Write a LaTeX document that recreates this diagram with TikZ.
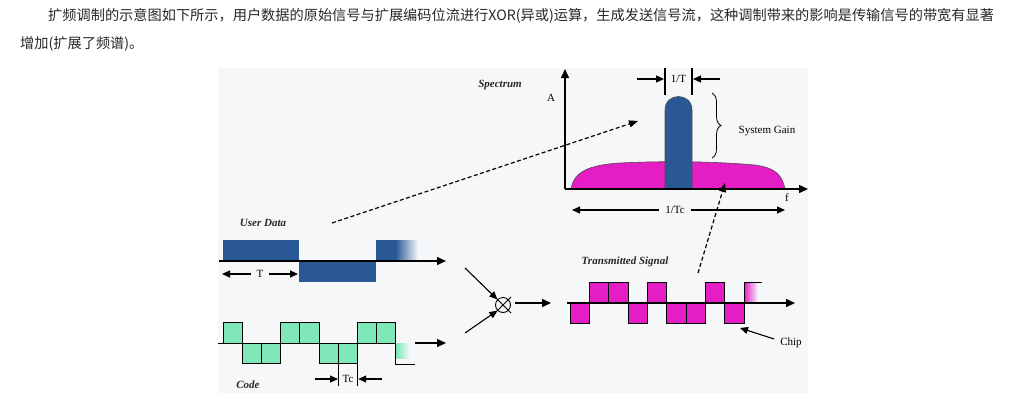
\documentclass[tikz,border=0pt]{standalone}
\usepackage{fontspec}
\setmainfont{Liberation Serif}
\newfontfamily\cjk{Noto Sans CJK SC}
\usetikzlibrary{arrows.meta,decorations.pathreplacing,shadings}
\definecolor{panel}{RGB}{246,247,249}
\definecolor{dblue}{RGB}{42,88,148}
\definecolor{mint}{RGB}{128,232,184}
\definecolor{pinkm}{RGB}{228,30,196}
\definecolor{txt}{RGB}{40,40,40}
\tikzset{
  tipa/.style={-{Triangle[length=9pt,width=8pt]}},
  axisline/.style={line width=1.4pt,tipa},
  thinarrow/.style={line width=1.1pt,-{Triangle[length=8pt,width=7pt]}},
  dasharrow/.style={line width=1.2pt,dash pattern=on 4pt off 2.5pt,-{Triangle[length=9pt,width=7pt]}},
  wave/.style={line width=0.9pt,draw=black},
  lab/.style={font=\fontsize{11}{13}\selectfont\itshape\bfseries,text=txt,inner sep=0pt},
  txtlab/.style={font=\fontsize{11}{13}\selectfont,text=black,inner sep=0pt},
  marker/.style={line width=1.1pt}
}
\begin{document}
\begin{tikzpicture}[x=1pt,y=-1pt]
\useasboundingbox (0,0) rectangle (1019,405);
\fill[white] (0,0) rectangle (1019,405);
% caption text
\node[anchor=west,inner sep=0pt,text=txt,font=\cjk\fontsize{14.2}{16}\selectfont] (cap1) at (48,16)
  {扩频调制的示意图如下所示，用户数据的原始信号与扩展编码位流进行XOR(异或)运算，生成发送信号流，这种调制带来的影响是传输信号的带宽有显著};
\node[anchor=west,inner sep=0pt,text=txt,font=\cjk\fontsize{14.2}{16}\selectfont] (cap2) at (20,44)
  {增加(扩展了频谱)。};
% panel
\fill[panel] (218,68) rectangle (808,393);

% ---------------- Spectrum ----------------
\fill[pinkm,draw=black!70,line width=0.6pt]
  (571,189) .. controls (574,172) and (588,165) .. (620,163)
  .. controls (660,161) and (710,161) .. (755,165)
  .. controls (776,168) and (782,175) .. (785,189) -- cycle;
\fill[dblue,draw=black!70,line width=0.6pt]
  (665,189) -- (665,110) .. controls (665,92) and (692,92) .. (692,110) -- (692,189) -- cycle;
\coordinate (origin) at (565,189);
\coordinate (ytop) at (565,69);
\coordinate (xend) at (808,189);
\draw[axisline] (origin) -- (ytop);
\draw[axisline] (origin) -- (xend);
\node[lab] (spec) at (500,85) {Spectrum};
\node[txtlab] (A) at (551,98) {A};
\node[txtlab] (f) at (787,198) {f};
% 1/T marker
\draw[marker] (665,68) -- (665,95);
\draw[marker] (692,68) -- (692,95);
\node[txtlab] (oneT) at (678.5,79) {1/T};
\coordinate (oTl) at (637,79); \coordinate (oTlt) at (664,79);
\coordinate (oTr) at (720,79); \coordinate (oTrt) at (693,79);
\draw[thinarrow] (oTl) -- (oTlt);
\draw[thinarrow] (oTr) -- (oTrt);
% brace
\draw[line width=0.8pt,decorate,decoration={brace,amplitude=9pt}] (712,93) -- (712,158);
\node[txtlab] (gain) at (767,131) {System Gain};
% 1/Tc
\node[txtlab] (oneTc) at (675,210) {1/Tc};
\draw[thinarrow] (oneTc.west) ++(-6,0) -- (572,210);
\draw[thinarrow] (oneTc.east) ++(6,0) -- (785,210);

% ---------------- User data ----------------
\fill[dblue] (223,240) rectangle (299,261);
\fill[dblue] (299,261) rectangle (376,282);
\fill[dblue] (376,240) rectangle (396,261);
\shade[left color=dblue,right color=panel] (395.5,240) rectangle (418,261);
\coordinate (udS) at (219,261); \coordinate (udE) at (446,261);
\draw[axisline] (udS) -- (udE);
\node[lab] (ud) at (263,223) {User Data};
\node[txtlab] (T) at (260,274) {T};
\draw[thinarrow] (T.west) ++(-5,0) -- (222,274);
\draw[thinarrow] (T.east) ++(5,0) -- (298,274);

% ---------------- Code ----------------
\foreach \i/\l in {0/1,1/-1,2/-1,3/1,4/1,5/-1,6/-1,7/1,8/1}{
  \pgfmathsetmacro{\xa}{223.3+19.15*\i}
  \pgfmathsetmacro{\xb}{223.3+19.15*(\i+1)}
  \pgfmathsetmacro{\yl}{343-20.5*\l}
  \filldraw[fill=mint,wave] (\xa,343) rectangle (\xb,\yl);
}
\shade[left color=mint,right color=panel] (396.5,343) rectangle (410,358);
\draw[wave] (218,343) -- (396,343);
\draw[wave] (395.7,323) -- (395.7,364) -- (415,364);
\coordinate (cdS) at (415,343); \coordinate (cdE) at (446,343);
\draw[axisline] (cdS) -- (cdE);
\node[lab] (code) at (248,385) {Code};
\draw[marker] (338.5,343) -- (338.5,386);
\draw[marker] (357.6,343) -- (357.6,386);
\node[txtlab] (Tc) at (348,379) {Tc};
\draw[thinarrow] (315,379) -- (338,379);
\draw[thinarrow] (382,379) -- (358.2,379);

% ---------------- Mixer ----------------
\node[circle,draw,line width=0.9pt,minimum size=15pt,inner sep=0pt] (mix) at (503,305) {};
\draw[line width=0.9pt] (495,297) -- (511,313) (511,297) -- (495,313);
\coordinate (m1) at (465,268); \coordinate (m2) at (465,333);
\draw[thinarrow] (m1) -- (mix.north west);
\draw[thinarrow] (m2) -- (mix.south west);
\coordinate (mo) at (551,303);
\draw[axisline] (mix.east) ++(4,-2) -- (mo);

% ---------------- Transmitted ----------------
\foreach \i/\l in {0/-1,1/1,2/1,3/-1,4/1,5/-1,6/-1,7/1,8/-1}{
  \pgfmathsetmacro{\xa}{570+19.33*\i}
  \pgfmathsetmacro{\xb}{570+19.33*(\i+1)}
  \pgfmathsetmacro{\yl}{303-20.5*\l}
  \filldraw[fill=pinkm,wave] (\xa,303) rectangle (\xb,\yl);
}
\shade[left color=pinkm,right color=panel] (744,283) rectangle (758,303);
\draw[wave] (744,303) -- (744,282.5) -- (762,282.5);
\coordinate (tsS) at (567,303); \coordinate (tsE) at (795,303);
\draw[axisline] (tsS) -- (tsE);
\node[lab] (ts) at (625,262) {Transmitted Signal};
\node[txtlab] (chip) at (791,343) {Chip};
\draw[thinarrow] (chip.west) ++(-6,-4) -- (740,328);

% ---------------- Dashed connectors ----------------
\coordinate (d1s) at (332,223); \coordinate (d1e) at (638,121);
\draw[dasharrow] (d1s) -- (d1e);
\coordinate (d2s) at (698,273); \coordinate (d2e) at (725,183);
\draw[dasharrow] (d2s) -- (d2e);
\end{tikzpicture}
\end{document}
